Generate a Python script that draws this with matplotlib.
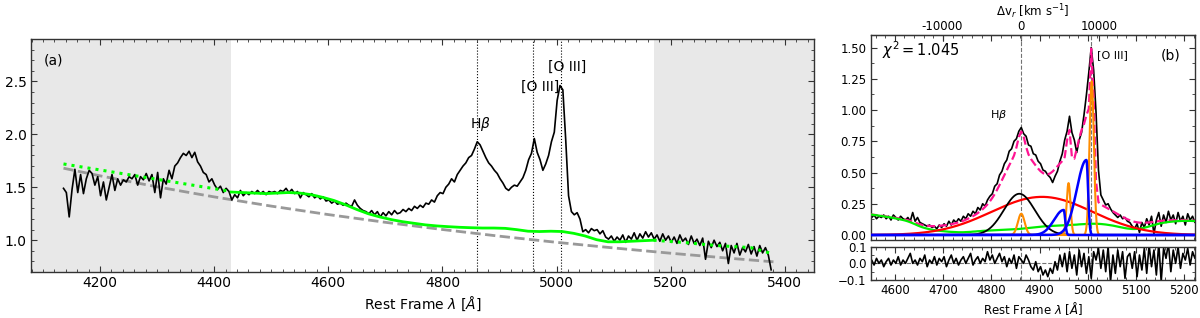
import numpy as np
import matplotlib
matplotlib.use("Agg")
import matplotlib.pyplot as plt
from matplotlib.ticker import MultipleLocator, FuncFormatter

# ---- panel (a): observed spectrum, 5 A grid starting at 4136 A
flux_a = [
    1.49, 1.45, 1.22, 1.48, 1.67, 1.45, 1.62, 1.44, 1.58, 1.66,
    1.63, 1.52, 1.60, 1.42, 1.55, 1.38, 1.50, 1.62, 1.47, 1.58,
    1.52, 1.57, 1.55, 1.60, 1.58, 1.62, 1.52, 1.60, 1.57, 1.63,
    1.56, 1.62, 1.45, 1.64, 1.40, 1.58, 1.53, 1.66, 1.58, 1.70,
    1.73, 1.78, 1.82, 1.80, 1.84, 1.78, 1.83, 1.74, 1.70, 1.64,
    1.62, 1.55, 1.58, 1.52, 1.48, 1.51, 1.45, 1.49, 1.46, 1.38,
    1.43, 1.40, 1.47, 1.42, 1.45, 1.43, 1.46, 1.44, 1.47, 1.44,
    1.46, 1.43, 1.46, 1.45, 1.46, 1.44, 1.47, 1.46, 1.49, 1.45,
    1.48, 1.44, 1.46, 1.40, 1.45, 1.43, 1.41, 1.44, 1.40, 1.42,
    1.39, 1.41, 1.37, 1.38, 1.35, 1.37, 1.34, 1.35, 1.33, 1.35,
    1.33, 1.32, 1.38, 1.33, 1.30, 1.28, 1.27, 1.25, 1.28, 1.24,
    1.27, 1.22, 1.26, 1.23, 1.27, 1.24, 1.28, 1.25, 1.26, 1.29,
    1.27, 1.30, 1.28, 1.32, 1.30, 1.33, 1.31, 1.35, 1.34, 1.38,
    1.36, 1.42, 1.45, 1.44, 1.50, 1.53, 1.58, 1.55, 1.62, 1.66,
    1.70, 1.73, 1.78, 1.80, 1.86, 1.93, 1.90, 1.84, 1.78, 1.73,
    1.70, 1.66, 1.63, 1.58, 1.54, 1.49, 1.47, 1.50, 1.52, 1.51,
    1.55, 1.59, 1.66, 1.76, 1.82, 1.96, 1.83, 1.76, 1.66, 1.72,
    1.80, 1.93, 2.02, 2.32, 2.46, 2.42, 1.95, 1.42, 1.27, 1.24,
    1.26, 1.20, 1.08, 1.10, 1.07, 1.11, 1.09, 1.10, 1.06, 1.09,
    1.03, 1.01, 1.04, 0.99, 1.03, 1.00, 1.05, 0.98, 1.04, 1.01,
    1.07, 1.00, 1.06, 1.02, 1.08, 1.03, 1.07, 1.01, 1.05, 0.99,
    1.06, 1.00, 1.04, 0.98, 1.03, 0.97, 1.05, 0.99, 1.02, 0.96,
    1.04, 0.97, 1.01, 0.95, 1.02, 0.82, 0.99, 0.93, 1.00, 0.94,
    0.98, 0.90, 0.97, 0.78, 0.95, 0.88, 0.97, 0.86, 0.93, 0.89,
    0.96, 0.87, 0.94, 0.85, 0.95, 0.88, 0.93, 0.86, 0.72,
]

# power-law continuum (grey dashed)
pl_wave = [4136, 4200, 4300, 4400, 4500, 4600, 4700, 4800, 4900, 5000, 5100, 5200, 5300, 5380]
pl_flux = [1.680, 1.608, 1.504, 1.409, 1.322, 1.242, 1.169, 1.101, 1.038, 0.980, 0.927, 0.877, 0.831, 0.796]

# power law + FeII (green), fitted window 4430-5170 on a 20 A grid
cont_fit = [
    1.455, 1.450, 1.445, 1.440, 1.445, 1.450, 1.445, 1.430, 1.405, 1.375,
    1.335, 1.290, 1.250, 1.220, 1.195, 1.175, 1.160, 1.145, 1.135, 1.128,
    1.122, 1.118, 1.115, 1.115, 1.112, 1.100, 1.085, 1.082, 1.085, 1.082,
    1.065, 1.040, 1.005, 0.985, 0.985, 0.990, 0.995, 1.000,
]
# extrapolated continuum outside the window (green dotted)
cont_left_wave = [4136, 4430]
cont_left = [1.72, 1.46]
cont_right_wave = [5170, 5220, 5280, 5340, 5380]
cont_right = [1.00, 0.98, 0.95, 0.93, 0.87]

line_a = [4861, 4959, 5007]
shade_lo, shade_hi = 4430, 5170

# ---- panel (b): continuum-subtracted spectrum, 5 A grid from 4547 A
flux_b = [
    0.15, 0.14, 0.16, 0.13, 0.15, 0.14, 0.16, 0.13, 0.15, 0.12,
    0.16, 0.14, 0.12, 0.15, 0.13, 0.12, 0.14, 0.11, 0.18, 0.11,
    0.14, 0.10, 0.09, 0.08, 0.07, 0.08, 0.06, 0.07, 0.05, 0.08,
    0.06, 0.09, 0.07, 0.11, 0.08, 0.12, 0.10, 0.13, 0.11, 0.15,
    0.13, 0.17, 0.15, 0.19, 0.17, 0.22, 0.20, 0.25, 0.23, 0.28,
    0.31, 0.33, 0.39, 0.41, 0.48, 0.51, 0.57, 0.60, 0.67, 0.69,
    0.75, 0.77, 0.83, 0.86, 0.81, 0.79, 0.72, 0.71, 0.65, 0.64,
    0.59, 0.57, 0.52, 0.51, 0.48, 0.46, 0.42, 0.47, 0.51, 0.59,
    0.65, 0.76, 0.83, 0.95, 0.82, 0.76, 0.66, 0.76, 0.82, 0.96,
    1.12, 1.30, 1.50, 1.32, 0.98, 0.52, 0.32, 0.28, 0.24, 0.25,
    0.21, 0.18, 0.16, 0.14, 0.16, 0.13, 0.14, 0.11, 0.10, 0.07,
    0.05, 0.09, 0.02, 0.10, 0.06, 0.13, 0.08, 0.15, 0.01, 0.12,
    0.18, 0.07, 0.16, 0.10, 0.19, 0.12, 0.16, 0.09, 0.18, 0.11,
    0.15, 0.08, 0.17, 0.12, 0.15, 0.10, 0.14,
]

# FeII template (green) on the same grid
feii_b = [
    0.165, 0.163, 0.160, 0.158, 0.155, 0.152, 0.149, 0.146, 0.143, 0.140,
    0.136, 0.132, 0.128, 0.124, 0.120, 0.115, 0.109, 0.102, 0.094, 0.086,
    0.077, 0.069, 0.062, 0.056, 0.051, 0.046, 0.042, 0.039, 0.036, 0.034,
    0.032, 0.030, 0.028, 0.026, 0.025, 0.024, 0.023, 0.022, 0.022, 0.022,
    0.023, 0.024, 0.025, 0.027, 0.028, 0.030, 0.031, 0.033, 0.034, 0.035,
    0.036, 0.037, 0.038, 0.039, 0.040, 0.041, 0.042, 0.043, 0.044, 0.045,
    0.046, 0.047, 0.048, 0.050, 0.052, 0.054, 0.056, 0.058, 0.060, 0.062,
    0.064, 0.066, 0.068, 0.070, 0.071, 0.072, 0.073, 0.074, 0.075, 0.076,
    0.077, 0.078, 0.079, 0.080, 0.081, 0.082, 0.083, 0.085, 0.086, 0.087,
    0.088, 0.089, 0.090, 0.090, 0.090, 0.089, 0.088, 0.086, 0.084, 0.081,
    0.078, 0.075, 0.071, 0.067, 0.063, 0.059, 0.055, 0.052, 0.050, 0.048,
    0.048, 0.049, 0.051, 0.054, 0.058, 0.063, 0.068, 0.074, 0.080, 0.085,
    0.090, 0.094, 0.098, 0.101, 0.104, 0.106, 0.108, 0.110, 0.111, 0.112,
    0.113, 0.113, 0.113, 0.113, 0.112, 0.112, 0.111,
]

resid_b = [
    0.00, 0.02, -0.01, 0.03, 0.00, 0.02, -0.02, 0.01, 0.03, -0.01,
    0.02, 0.00, 0.04, -0.01, 0.02, 0.00, 0.03, 0.06, 0.00, 0.02,
    -0.01, 0.03, 0.01, 0.05, -0.02, 0.02, 0.00, 0.04, -0.01, 0.03,
    0.01, 0.04, -0.02, 0.02, 0.05, 0.00, 0.03, -0.01, 0.02, 0.04,
    0.00, 0.03, 0.06, -0.01, 0.02, 0.04, 0.00, 0.03, 0.01, 0.07,
    0.02, 0.05, 0.00, 0.03, 0.06, 0.01, 0.04, -0.02, 0.03, 0.00,
    0.05, -0.03, 0.04, 0.02, 0.00, 0.05, 0.02, -0.02, -0.04, 0.01,
    -0.05, -0.02, -0.07, -0.04, -0.08, -0.03, -0.06, 0.01, -0.04, 0.05,
    -0.02, 0.06, -0.05, 0.07, -0.03, 0.05, -0.07, 0.08, -0.02, 0.06,
    -0.06, 0.04, -0.09, 0.07, 0.02, 0.09, -0.03, 0.08, -0.05, 0.10,
    -0.11, 0.05, -0.06, 0.08, -0.02, 0.07, -0.09, 0.04, 0.06, -0.03,
    0.07, -0.08, 0.05, -0.04, 0.09, -0.06, 0.11, -0.02, 0.08, -0.07,
    0.12, -0.11, 0.09, 0.03, 0.12, -0.05, 0.08, 0.00, 0.10, -0.03,
    0.06, 0.02, 0.09, -0.01, 0.07, 0.03, 0.05,
]

# fitted gaussian components: (centre, amplitude, sigma_left, sigma_right)
hb_broad = (4858, 0.33, 32, 32)
hb_narrow = (4862, 0.17, 7, 7)
very_broad = (4905, 0.305, 105, 105)
o3_4959 = (4960, 0.415, 4, 4)
o3_5007 = (5008, 1.23, 4.5, 4.5)
wing_4959 = (4950, 0.20, 20, 3)
wing_5007 = (4997, 0.60, 20, 3.5)

chi2 = 1.045
line_b = [4861, 5007]
C_KMS = 299792.458


def gauss(x, p):
    c, a, sl, sr = p
    s = np.where(x < c, sl, sr)
    return a * np.exp(-0.5 * ((x - c) / s) ** 2)


wave_a = 4136 + 5 * np.arange(len(flux_a))
wave_cfit = 4430 + 20 * np.arange(len(cont_fit))
wave_b = 4547 + 5 * np.arange(len(flux_b))
fine = np.arange(4540, 5235, 0.5)

model_b = feii_b + sum(gauss(wave_b, p) for p in
                       [hb_broad, hb_narrow, very_broad, o3_4959, o3_5007, wing_4959, wing_5007])

plt.rcParams["font.family"] = ["DejaVu Sans"]
plt.rcParams["mathtext.fontset"] = "dejavusans"

fig = plt.figure(figsize=(12, 3.18), dpi=100)
ax_a = fig.add_axes([0.0258, 0.1447, 0.6525, 0.7327])
ax_b = fig.add_axes([0.7256, 0.2453, 0.2702, 0.6446])
ax_r = fig.add_axes([0.7256, 0.1195, 0.2702, 0.1047])


def style(ax, size):
    ax.tick_params(which="both", direction="in", top=True, right=True,
                   labelsize=size, color="0.2", pad=3)
    ax.tick_params(which="major", length=4)
    ax.tick_params(which="minor", length=2)
    for sp in ax.spines.values():
        sp.set_color("0.2")
        sp.set_linewidth(1.0)


# ---------------- panel (a)
ax_a.axvspan(4000, shade_lo, color="#e8e8e8", lw=0, zorder=0)
ax_a.axvspan(shade_hi, 5500, color="#e8e8e8", lw=0, zorder=0)
for w in line_a:
    ax_a.axvline(w, color="k", ls=":", lw=0.8, zorder=1)
ax_a.plot(pl_wave, pl_flux, color="#999999", ls="--", lw=2, zorder=2)
ax_a.plot(wave_a, flux_a, color="k", lw=1.2, zorder=3)
ax_a.plot(wave_cfit, cont_fit, color="#00ff00", lw=2, zorder=4)
ax_a.plot(cont_left_wave, cont_left, color="#00ff00", ls=":", lw=2.2, zorder=4)
ax_a.plot(cont_right_wave, cont_right, color="#00ff00", ls=":", lw=2.2, zorder=4)

ax_a.set_xlim(4079, 5451)
ax_a.set_ylim(0.7, 2.9)
ax_a.xaxis.set_major_locator(MultipleLocator(200))
ax_a.xaxis.set_minor_locator(MultipleLocator(20))
ax_a.yaxis.set_major_locator(MultipleLocator(0.5))
ax_a.yaxis.set_minor_locator(MultipleLocator(0.1))
style(ax_a, 10)
ax_a.set_xlabel(r"Rest Frame $\lambda$ [$\AA$]", fontsize=10, labelpad=3)

ax_a.text(0.016, 0.906, "(a)", transform=ax_a.transAxes, fontsize=10, va="center")
ax_a.text(4867, 2.10, r"H$\beta$", fontsize=10, ha="center", va="center")
ax_a.text(4971, 2.445, "[O III]", fontsize=10, ha="center", va="center")
ax_a.text(5019, 2.64, "[O III]", fontsize=10, ha="center", va="center")

# ---------------- panel (b)
for w in line_b:
    ax_b.axvline(w, color="0.45", ls="--", lw=0.8, zorder=1)
    ax_r.axvline(w, color="0.45", ls="--", lw=0.8, zorder=1)
ax_b.plot(wave_b, flux_b, color="k", lw=1.2, zorder=2)
ax_b.plot(wave_b, model_b, color="#ff1493", ls="--", lw=1.6, zorder=3)
ax_b.plot(wave_b, feii_b, color="#00ee00", lw=1.6, zorder=4)
ax_b.plot(fine, gauss(fine, very_broad), color="red", lw=1.6, zorder=4)
ax_b.plot(fine, gauss(fine, hb_broad), color="k", lw=1.3, zorder=4)
for p in [hb_narrow, o3_4959, o3_5007]:
    ax_b.plot(fine, gauss(fine, p), color="darkorange", lw=1.5, zorder=5)
for p in [wing_4959, wing_5007]:
    ax_b.plot(fine, gauss(fine, p), color="blue", lw=1.8, zorder=6)

xlim_b = (4550, 5222)
ax_b.set_xlim(*xlim_b)
ax_b.set_ylim(-0.04, 1.60)
ax_b.xaxis.set_major_locator(MultipleLocator(100))
ax_b.xaxis.set_minor_locator(MultipleLocator(20))
ax_b.yaxis.set_major_locator(MultipleLocator(0.25))
ax_b.yaxis.set_minor_locator(MultipleLocator(0.125))
ax_b.yaxis.set_major_formatter(FuncFormatter(lambda v, p: "%.2f" % v))
style(ax_b, 8.5)
ax_b.tick_params(labelbottom=False)

sec = ax_b.secondary_xaxis(
    "top",
    functions=(lambda l: (l - 4861) / 4861 * C_KMS, lambda v: 4861 * (1 + v / C_KMS)))
sec.set_xticks([-10000, 0, 10000])
sec.xaxis.set_major_formatter(FuncFormatter(lambda v, p: "%d" % v))
sec.tick_params(direction="in", labelsize=8.5, length=4, color="0.2", pad=1.5)
sec.set_xlabel(r"$\Delta$v$_r$ [km s$^{-1}$]", fontsize=8.5, labelpad=3)

ax_b.text(0.036, 0.927, r"$\chi^2 = %.3f$" % chi2, transform=ax_b.transAxes,
          fontsize=10.5, va="center")
ax_b.text(0.954, 0.902, "(b)", transform=ax_b.transAxes, fontsize=10,
          ha="right", va="center")
ax_b.text(5018, 1.44, "[O III]", fontsize=8, ha="left", va="center")
ax_b.text(4814, 0.96, r"H$\beta$", fontsize=8, ha="center", va="center")

# residuals
ax_r.axhline(0, color="0.45", ls="--", lw=0.8, zorder=1)
ax_r.plot(wave_b, resid_b, color="k", lw=1.2, zorder=2)
ax_r.set_xlim(*xlim_b)
ax_r.set_ylim(-0.1, 0.1)
ax_r.xaxis.set_major_locator(MultipleLocator(100))
ax_r.xaxis.set_minor_locator(MultipleLocator(20))
ax_r.set_yticks([-0.1, 0.0, 0.1])
ax_r.yaxis.set_minor_locator(MultipleLocator(0.05))
style(ax_r, 8.5)
ax_r.set_xlabel(r"Rest Frame $\lambda$ [$\AA$]", fontsize=8.5, labelpad=2)

fig.savefig("out.png", dpi=100)
